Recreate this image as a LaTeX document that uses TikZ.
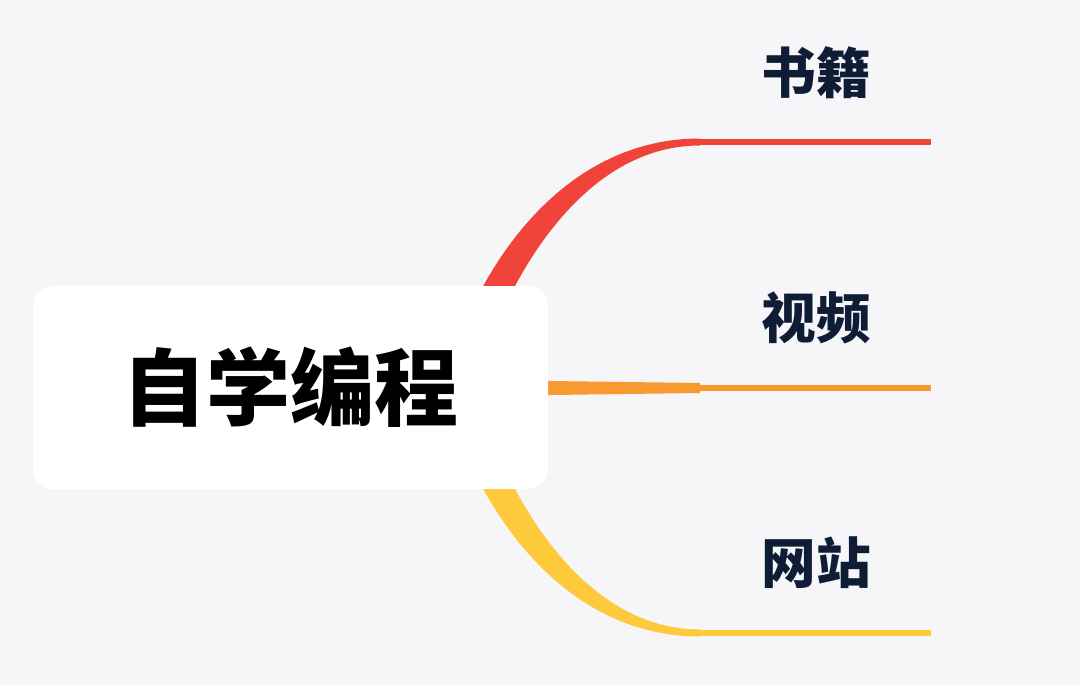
\documentclass[tikz,border=0pt]{standalone}
\usepackage{fontspec}
\newfontfamily\cjk{Noto Sans CJK SC}
\definecolor{bg}{HTML}{F6F6F9}
\definecolor{bred}{HTML}{F0433A}
\definecolor{borange}{HTML}{F99A30}
\definecolor{byellow}{HTML}{FFC93C}
\definecolor{navy}{HTML}{0E1C36}
\begin{document}
\begin{tikzpicture}[x=0.75pt,y=-0.75pt,
  rootbox/.style={fill=white, rounded corners=15pt, minimum width=386.25pt, minimum height=152.25pt, inner sep=0pt, font=\cjk\bfseries\fontsize{63}{63}\selectfont, text=black},
  leaf/.style={inner sep=0pt, font=\cjk\bfseries\fontsize{41}{41}\selectfont, text=navy},
  thin/.style={line width=4.5pt}]
\fill[bg] (0,0) rectangle (1080,685);
\useasboundingbox (0,0) rectangle (1080,685);
% branch ends
\coordinate (rmid) at (700,142);
\coordinate (rend) at (931,142);
\coordinate (omid) at (700,388);
\coordinate (oend) at (931,388);
\coordinate (ymid) at (700,633);
\coordinate (yend) at (931,633);
% red branch
\fill[bred] (445,387) .. controls (463,298) and (546,138.5) .. (700,138.5) -- (700,145.5) .. controls (572,145.5) and (497,302) .. (475,387) -- cycle;
\draw[bred, thin] (rmid) -- (rend);
% orange branch
\fill[borange] (290,377.5) -- (700,383) -- (700,393) -- (290,398.5) -- cycle;
\draw[borange, thin] (omid) -- (oend);
% yellow branch
\fill[byellow] (445,388) .. controls (463,477) and (546,636.5) .. (700,636.5) -- (700,629.5) .. controls (572,629.5) and (497,473) .. (475,388) -- cycle;
\draw[byellow, line width=3.9pt] (ymid) -- (yend);
% root
\node[rootbox] (root) at (290.5,387.5) {自学编程};
% leaves
\node[leaf] (book) at (816,73) {书籍};
\node[leaf] (video) at (816,318) {视频};
\node[leaf] (web) at (816,563) {网站};
\end{tikzpicture}
\end{document}
